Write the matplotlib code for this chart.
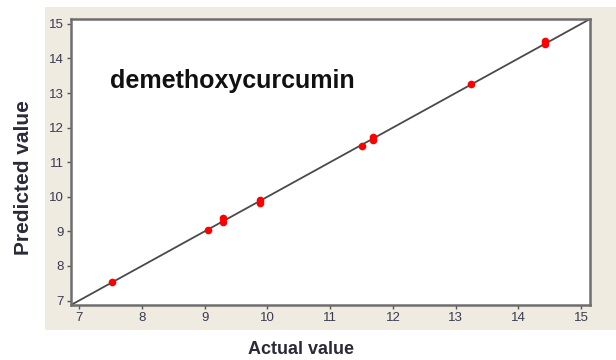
import matplotlib
matplotlib.use("Agg")
import matplotlib.pyplot as plt
from matplotlib.patches import Rectangle

# Data
actual = [7.52, 9.05, 9.30, 9.30, 9.88, 9.88, 11.50, 11.68, 11.68, 13.25, 14.42, 14.42]
predicted = [7.54, 9.03, 9.38, 9.27, 9.92, 9.82, 11.48, 11.74, 11.64, 13.25, 14.50, 14.41]
ticks = [7, 8, 9, 10, 11, 12, 13, 14, 15]
lims = [6.87, 15.14]
label_text = "demethoxycurcumin"

fig = plt.figure(figsize=(6.16, 3.6), dpi=100)
fig.patch.set_facecolor("white")
bg = Rectangle((45/616, 1-330/360), 1-45/616, (330-7)/360,
               transform=fig.transFigure, facecolor="#EFEBE1",
               edgecolor="none", zorder=-10)
fig.patches.append(bg)

ax = fig.add_axes([71/616, 1-305/360, (590-71)/616, (305-19)/360])
ax.set_zorder(1)
ax.set_facecolor("white")
ax.plot(lims, lims, color="#4a4a4a", lw=1.3, zorder=2)
ax.plot(actual, predicted, linestyle="none", marker="o", markersize=5.5,
        color="#ff0000", markeredgewidth=0, zorder=3)
ax.set_xlim(lims)
ax.set_ylim(lims)
ax.set_xticks(ticks)
ax.set_yticks(ticks)
for s in ax.spines.values():
    s.set_color("#6e6e6e")
    s.set_linewidth(1.8)
ax.tick_params(direction="out", length=3, width=1, color="#555555",
               labelsize=9.5, labelcolor="#3a3a50", pad=2)
for lab in ax.get_xticklabels() + ax.get_yticklabels():
    lab.set_family("Liberation Sans")

ax.text(7.49, 13.15, label_text, fontsize=18, fontweight="bold",
        family="Liberation Sans", color="#111111", va="baseline", ha="left")

fig.text(301.5/616, 1-350/360, "Actual value", fontsize=13, fontweight="bold",
         family="Liberation Sans", color="#2a2a38", ha="center", va="center")
fig.text(24/616, 1-178/360, "Predicted value", fontsize=15, fontweight="bold",
         family="Liberation Sans", color="#2a2a38", ha="center", va="center",
         rotation=90)

fig.savefig("out.png", dpi=100)
